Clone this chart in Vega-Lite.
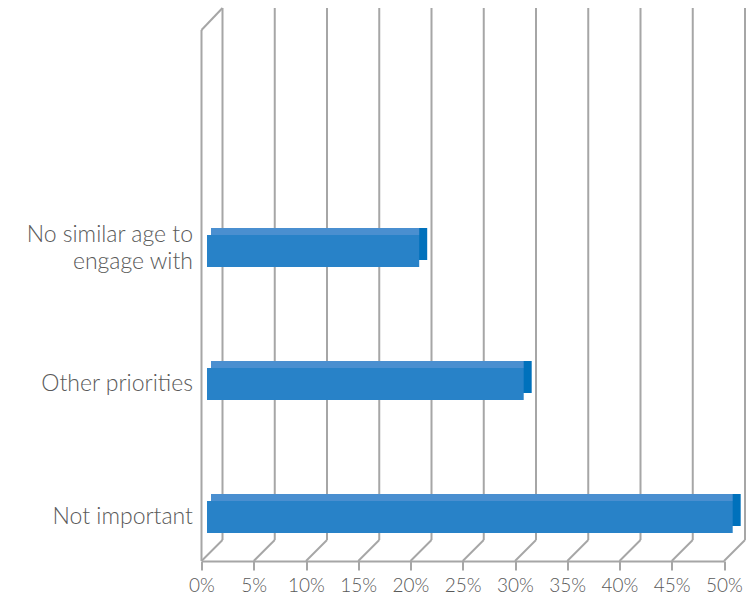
{
  "$schema": "https://vega.github.io/schema/vega-lite/v6.json",
  "autosize": "none",
  "width": 522.5,
  "height": 553,
  "padding": {"left": 201.5, "top": 8, "right": 29, "bottom": 37},
  "background": "white",
  "config": {"view": {"stroke": null}, "font": "Lato"},
  "datasets": {
    "bars": [
      {"category": "No similar age to engage with", "value": 20},
      {"category": "Other priorities", "value": 30},
      {"category": "Not important", "value": 50}
    ],
    "ticks": [
      {"t": 0}, {"t": 5}, {"t": 10}, {"t": 15}, {"t": 20}, {"t": 25},
      {"t": 30}, {"t": 35}, {"t": 40}, {"t": 45}, {"t": 50}
    ]
  },
  "layer": [
    {
      "data": {"name": "ticks"},
      "mark": {"type": "rule", "color": "#a6a6a6", "strokeWidth": 2, "xOffset": 21, "x2Offset": 21, "y2Offset": -21},
      "encoding": {
        "x": {
          "field": "t", "type": "quantitative",
          "scale": {"domain": [0, 50], "nice": false, "zero": true},
          "axis": {
            "title": null, "grid": false, "domain": true, "domainColor": "#a6a6a6", "domainWidth": 2,
            "ticks": true, "tickColor": "#a6a6a6", "tickWidth": 2, "tickSize": 9,
            "values": [0, 5, 10, 15, 20, 25, 30, 35, 40, 45, 50],
            "labelExpr": "datum.value + '%'",
            "labelFont": "Lato", "labelFontSize": 19, "labelFontWeight": 300, "labelColor": "#595959",
            "labelPadding": 6, "labelFlush": false, "labelOverlap": false
          }
        },
        "y": {"value": 0},
        "y2": {"value": "height"}
      }
    },
    {
      "data": {"name": "ticks"},
      "mark": {"type": "rule", "color": "#a6a6a6", "strokeWidth": 2, "x2Offset": 21, "y2Offset": -21},
      "encoding": {
        "x": {"field": "t", "type": "quantitative"},
        "x2": {"field": "t"},
        "y": {"value": "height"},
        "y2": {"value": "height"}
      }
    },
    {
      "data": {"values": [{"edge": "left"}]},
      "mark": {"type": "rule", "color": "#a6a6a6", "strokeWidth": 2, "yOffset": 22},
      "encoding": {
        "x": {"datum": 0, "type": "quantitative"},
        "y": {"value": 0},
        "y2": {"value": "height"}
      }
    },
    {
      "data": {"values": [{"edge": "left-top"}]},
      "mark": {"type": "rule", "color": "#a6a6a6", "strokeWidth": 2, "yOffset": 22, "x2Offset": 21},
      "encoding": {
        "x": {"datum": 0, "type": "quantitative"},
        "x2": {"datum": 0},
        "y": {"value": 0},
        "y2": {"value": 0}
      }
    },
    {
      "data": {"name": "bars"},
      "mark": {"type": "bar", "color": "#0071bc", "height": 32, "yOffset": -7, "xOffset": 16.7, "x2Offset": 13.5},
      "encoding": {
        "y": {
          "field": "category", "type": "nominal", "sort": null,
          "scale": {"paddingInner": 0.76, "paddingOuter": 0.959, "align": 0.89},
          "axis": {
            "title": null, "domain": false, "ticks": false, "labelPadding": 9,
            "labelFont": "Lato", "labelFontSize": 23, "labelFontWeight": 300, "labelColor": "#595959",
            "labelLineHeight": 27, "labelLimit": 300,
            "labelOffset": {"condition": {"test": "datum.value == 'No similar age to engage with'", "value": -16}, "value": 0},
            "labelExpr": "datum.value == 'No similar age to engage with' ? ['No similar age to', 'engage with'] : datum.value"
          }
        },
        "x": {"field": "value", "type": "quantitative"},
        "x2": {"datum": 0}
      }
    },
    {
      "data": {"name": "bars"},
      "mark": {"type": "bar", "color": "#4a8fd0", "height": 7, "yOffset": -19.5, "xOffset": 8.7, "x2Offset": 9.5},
      "encoding": {
        "y": {"field": "category", "type": "nominal", "sort": null},
        "x": {"field": "value", "type": "quantitative"},
        "x2": {"datum": 0}
      }
    },
    {
      "data": {"name": "bars"},
      "mark": {"type": "bar", "color": "#2882c8", "height": 32, "xOffset": 8.7, "x2Offset": 5.5},
      "encoding": {
        "y": {"field": "category", "type": "nominal", "sort": null},
        "x": {"field": "value", "type": "quantitative"},
        "x2": {"datum": 0}
      }
    }
  ]
}
